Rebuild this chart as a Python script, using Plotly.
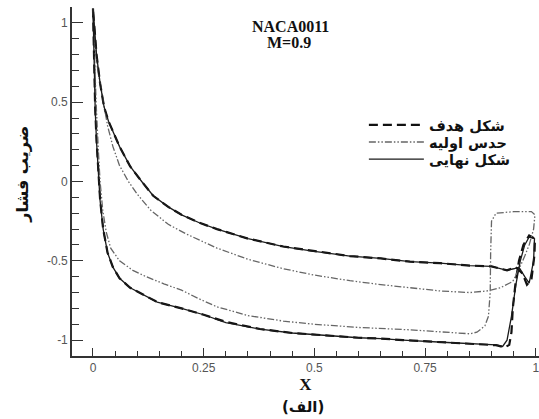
import plotly.graph_objects as go

# Pressure coefficient distributions along the chord, NACA0011 at M=0.9.
# Each curve is one continuous path: surface B from the leading edge to the
# trailing edge, round the trailing-edge loop, then surface A back to x=0.

# Target shape (dashed)
target_x = [0.0, 0.002, 0.005, 0.008, 0.011, 0.016, 0.023, 0.033, 0.045, 0.06,
            0.084, 0.11, 0.145, 0.2, 0.25, 0.3, 0.377, 0.45, 0.5, 0.6, 0.65, 0.7,
            0.8, 0.87, 0.91, 0.93, 0.94, 0.945, 0.948, 0.955, 0.962, 0.972, 0.985,
            0.998, 0.997, 0.99, 0.98, 0.97, 0.955, 0.935, 0.9, 0.851, 0.784, 0.716,
            0.65, 0.58, 0.5, 0.43, 0.35, 0.28, 0.24, 0.2, 0.17, 0.136, 0.11, 0.084,
            0.06, 0.045, 0.035, 0.025, 0.016, 0.008, 0.004, 0.0]
target_cp = [1.09, 0.76, 0.46, 0.26, 0.09, -0.11, -0.3, -0.45, -0.54, -0.61,
             -0.67, -0.71, -0.76, -0.8, -0.84, -0.885, -0.93, -0.955, -0.965, -0.985, -0.99, -1.0,
             -1.015, -1.025, -1.032, -1.045, -1.03, -0.95, -0.8, -0.62, -0.5, -0.4, -0.34,
             -0.36, -0.46, -0.62, -0.65, -0.58, -0.54, -0.56, -0.535, -0.53, -0.515, -0.505,
             -0.485, -0.47, -0.44, -0.41, -0.36, -0.3, -0.26, -0.21, -0.16, -0.09, 0.0, 0.095,
             0.22, 0.31, 0.38, 0.47, 0.62, 0.8, 0.95, 1.09]

# Initial guess (dash-dot-dot)
initial_x = [0.0, 0.003, 0.007, 0.012, 0.016, 0.022, 0.03, 0.04, 0.06, 0.09,
             0.12, 0.16, 0.2, 0.24, 0.28, 0.35, 0.43, 0.5, 0.6, 0.716, 0.8, 0.851,
             0.867, 0.885, 0.893, 0.897, 0.898, 0.9, 0.91, 0.95, 0.99, 0.998,
             0.995, 0.985, 0.975, 0.964, 0.948, 0.92, 0.89, 0.851, 0.784, 0.716,
             0.65, 0.58, 0.5, 0.43, 0.35, 0.28, 0.25, 0.21, 0.17, 0.13, 0.1, 0.08,
             0.06, 0.045, 0.033, 0.023, 0.018, 0.01, 0.004, 0.0]
initial_cp = [1.09, 0.8, 0.5, 0.2, 0.0, -0.18, -0.32, -0.42, -0.5, -0.56,
              -0.6, -0.645, -0.685, -0.74, -0.79, -0.845, -0.88, -0.9, -0.92, -0.935, -0.95, -0.96,
              -0.95, -0.91, -0.85, -0.7, -0.45, -0.25, -0.2, -0.19, -0.19, -0.21,
              -0.3, -0.4, -0.47, -0.54, -0.63, -0.67, -0.69, -0.7, -0.69, -0.67,
              -0.65, -0.625, -0.59, -0.55, -0.49, -0.42, -0.38, -0.33, -0.27, -0.18, -0.08, 0.0,
              0.1, 0.22, 0.35, 0.5, 0.58, 0.72, 0.9, 1.09]

# Final shape (solid)
final_x = [0.0, 0.002, 0.005, 0.008, 0.011, 0.016, 0.023, 0.033, 0.045, 0.06,
           0.084, 0.11, 0.145, 0.2, 0.25, 0.3, 0.377, 0.45, 0.5, 0.6, 0.65, 0.7,
           0.8, 0.87, 0.91, 0.925, 0.935, 0.945, 0.955, 0.965, 0.975, 0.985,
           0.997, 0.995, 0.985, 0.975, 0.962, 0.95, 0.935, 0.9, 0.851, 0.784, 0.716,
           0.65, 0.58, 0.5, 0.43, 0.35, 0.28, 0.24, 0.2, 0.17, 0.136, 0.11, 0.084,
           0.06, 0.045, 0.035, 0.025, 0.016, 0.008, 0.004, 0.0]
final_cp = [1.09, 0.75, 0.45, 0.25, 0.08, -0.12, -0.3, -0.45, -0.54, -0.61,
            -0.67, -0.71, -0.76, -0.8, -0.84, -0.89, -0.93, -0.955, -0.965, -0.985, -0.99, -1.0,
            -1.015, -1.025, -1.03, -1.04, -1.0, -0.85, -0.65, -0.5, -0.4, -0.35,
            -0.36, -0.5, -0.64, -0.6, -0.54, -0.55, -0.56, -0.535, -0.53, -0.515, -0.505,
            -0.485, -0.47, -0.44, -0.41, -0.36, -0.3, -0.26, -0.21, -0.16, -0.09, 0.0, 0.095,
            0.22, 0.31, 0.38, 0.47, 0.62, 0.8, 0.95, 1.09]

series_names = ["شکل هدف", "حدس اولیه", "شکل نهایی"]

x_tickvals = [0, 0.25, 0.5, 0.75, 1]
x_ticktext = ["0", "0.25", "0.5", "0.75", "1"]
y_tickvals = [-1, -0.5, 0, 0.5, 1]
y_ticktext = ["-1", "-0.5", "0", "0.5", "1"]

fig = go.Figure()
fig.add_trace(go.Scatter(
    x=target_x, y=target_cp, mode="lines", name="<b>%s</b>" % series_names[0],
    line=dict(color="#111111", width=2.2, dash="9px,5px"), legend="legend",
))
fig.add_trace(go.Scatter(
    x=initial_x, y=initial_cp, mode="lines", name="<b>%s</b>" % series_names[1],
    line=dict(color="#666666", width=1.3, dash="7px,2px,1.5px,2px,1.5px,2px"),
    legend="legend2",
))
fig.add_trace(go.Scatter(
    x=final_x, y=final_cp, mode="lines", name="<b>%s</b>" % series_names[2],
    line=dict(color="#1a1a1a", width=1.3), legend="legend3",
))

axis_common = dict(
    showgrid=False, zeroline=False, showline=True, linecolor="#333333",
    linewidth=1.6, ticks="inside", tickcolor="#333333", tickwidth=1.4,
    tickfont=dict(family="Liberation Sans, Arial", size=12, color="#555555"),
    mirror=False, ticklabeloverflow="allow",
)

fig.update_xaxes(
    range=[-0.0474, 1.0072], tickvals=x_tickvals, ticktext=x_ticktext,
    ticklen=8,
    minor=dict(dtick=0.05, tick0=0, ticklen=5, ticks="inside",
               tickcolor="#333333", tickwidth=1.2),
    title=dict(text="<b>X</b>", font=dict(family="Liberation Serif, Times New Roman",
                                          size=17, color="#111111"), standoff=0),
    **axis_common,
)
fig.update_yaxes(
    range=[-1.1, 1.1], tickvals=y_tickvals, ticktext=y_ticktext,
    ticklen=11,
    minor=dict(dtick=0.1, tick0=0, ticklen=7, ticks="inside",
               tickcolor="#333333", tickwidth=1.2),
    **axis_common,
)

# Y-axis caption, set slightly above the plot's mid-height
fig.add_annotation(
    x=-0.105, y=0.522, xref="paper", yref="paper", xanchor="center", yanchor="middle",
    text="<b>ضریب فشار</b>", showarrow=False, textangle=-90,
    font=dict(family="DejaVu Sans", size=16, color="#111111"),
)

# Case label
fig.add_annotation(
    x=0.468, y=0.943, xref="paper", yref="paper", xanchor="center", yanchor="middle",
    text="<b>NACA0011</b>", showarrow=False,
    font=dict(family="Liberation Serif, Times New Roman", size=16, color="#111111"),
)
fig.add_annotation(
    x=0.465, y=0.897, xref="paper", yref="paper", xanchor="center", yanchor="middle",
    text="<b>M=0.9</b>", showarrow=False,
    font=dict(family="Liberation Serif, Times New Roman", size=16, color="#111111"),
)

fig.add_annotation(
    x=0.495, y=-0.145, xref="paper", yref="paper", xanchor="center", yanchor="middle",
    text="<b>(الف)</b>", showarrow=False,
    font=dict(family="DejaVu Sans", size=15, color="#111111"),
)

legend_common = dict(
    x=0.625, xanchor="left", yanchor="middle",
    bgcolor="rgba(0,0,0,0)", borderwidth=0,
    font=dict(family="DejaVu Sans", size=14.5, color="#111111"),
    tracegroupgap=0, itemwidth=55,
)

fig.update_layout(
    width=539, height=419,
    margin=dict(l=72, r=0, t=7, b=63),
    paper_bgcolor="white", plot_bgcolor="white",
    showlegend=True,
    legend=dict(y=0.662, **legend_common),
    legend2=dict(y=0.613, **legend_common),
    legend3=dict(y=0.564, **legend_common),
)

fig.write_html("out.html")
